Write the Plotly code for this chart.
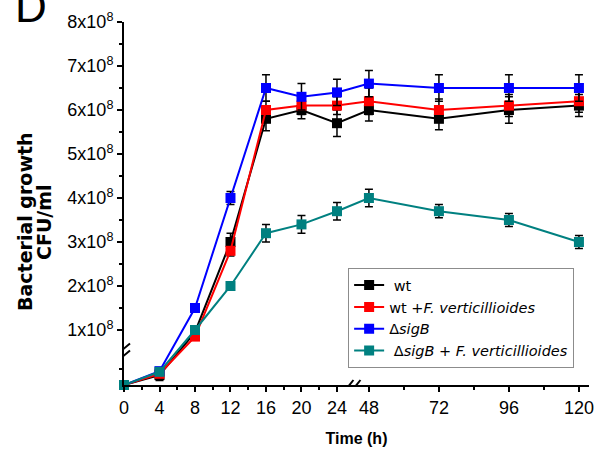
import plotly.graph_objects as go

# ---------------- data ----------------
hours = [0, 4, 8, 12, 16, 20, 24, 48, 72, 96, 120]

wt = [0, 0.15e8, 0.95e8, 3.0e8, 5.8e8, 6.0e8, 5.7e8, 6.0e8, 5.8e8, 6.0e8, 6.1e8]
wt_err = [0, 0.08e8, 0.1e8, 0.2e8, 0.27e8, 0.2e8, 0.3e8, 0.25e8, 0.25e8, 0.3e8, 0.25e8]

wt_fv = [0, 0.17e8, 0.85e8, 2.8e8, 6.0e8, 6.1e8, 6.1e8, 6.2e8, 6.0e8, 6.1e8, 6.2e8]
wt_fv_err = [0, 0.05e8, 0.07e8, 0.12e8, 0.2e8, 0.2e8, 0.2e8, 0.3e8, 0.25e8, 0.25e8, 0.25e8]

sigb = [0, 0.21e8, 1.5e8, 4.0e8, 6.5e8, 6.3e8, 6.4e8, 6.6e8, 6.5e8, 6.5e8, 6.5e8]
sigb_err = [0, 0.05e8, 0.05e8, 0.15e8, 0.3e8, 0.3e8, 0.3e8, 0.3e8, 0.3e8, 0.3e8, 0.3e8]

sigb_fv = [0, 0.2e8, 1.0e8, 2.0e8, 3.2e8, 3.4e8, 3.7e8, 4.0e8, 3.7e8, 3.5e8, 3.0e8]
sigb_fv_err = [0, 0.05e8, 0.05e8, 0.05e8, 0.2e8, 0.2e8, 0.2e8, 0.2e8, 0.15e8, 0.15e8, 0.15e8]

series_names = ["\u00a0wt", "wt +<i>F. verticillioides</i>", "\u0394<i>sigB</i>",
                "\u00a0\u0394<i>sigB</i> + <i>F. verticillioides</i>"]
series_colors = ["#000000", "#ff0000", "#0000ff", "#008080"]

x_ticks = [0, 4, 8, 12, 16, 20, 24, 48, 72, 96, 120]
x_minor = [2, 6, 10, 14, 18, 22, 60, 84, 108]
y_ticks = [1e8, 2e8, 3e8, 4e8, 5e8, 6e8, 7e8, 8e8]
y_ticklabels = ["%dx10<sup>8</sup>" % int(v / 1e8) for v in y_ticks]
y_minor = [0.25e8, 1.5e8, 2.5e8, 3.5e8, 4.5e8, 5.5e8, 6.5e8, 7.5e8]

# ------------- broken-axis scales -------------
X_GAP = 3.6          # width of the 24 -> 48 h break, in first-segment hours
X_SCALE2 = 0.3287    # relative scale of the 48-120 h segment
Y_BREAK = 0.5e8      # y value at the axis break
Y_LOW_STRETCH = 1.5  # stretch of the segment below the break


def tx(h):
    return h if h <= 24 else 24 + X_GAP + (h - 48) * X_SCALE2


def ty(v):
    u = v / 1e8
    b = Y_BREAK / 1e8
    return u * Y_LOW_STRETCH if u <= b else u + b * (Y_LOW_STRETCH - 1)


fig = go.Figure()
for vals, errs, name, col in zip([wt, wt_fv, sigb, sigb_fv],
                                 [wt_err, wt_fv_err, sigb_err, sigb_fv_err],
                                 series_names, series_colors):
    yy = [ty(v) for v in vals]
    plus = [ty(v + e) - ty(v) for v, e in zip(vals, errs)]
    minus = [ty(v) - ty(max(v - e, 0)) for v, e in zip(vals, errs)]
    fig.add_trace(go.Scatter(
        x=[tx(h) for h in hours], y=yy, name=name, mode="lines+markers",
        line=dict(color=col, width=2),
        marker=dict(symbol="square", size=10, color=col),
        error_y=dict(type="data", symmetric=False, array=plus, arrayminus=minus,
                     color="#000000", thickness=1.5, width=4),
        cliponaxis=False,
    ))

fig.update_layout(
    width=595, height=451,
    margin=dict(l=124, r=6, t=22, b=66, autoexpand=False),
    paper_bgcolor="white", plot_bgcolor="white",
    font=dict(family="Liberation Sans, Arial", color="#000000"),
    showlegend=True,
    legend=dict(x=0.482, y=0.322, xanchor="left", yanchor="top",
                bordercolor="#8c8c8c", borderwidth=1,
                font=dict(size=14.5, family="DejaVu Sans"),
                tracegroupgap=0, bgcolor="white"),
)

fig.update_xaxes(
    range=[0, 52.4], showgrid=False, zeroline=False, automargin=False,
    showline=True, linecolor="#000000", linewidth=2,
    ticks="outside", ticklen=5, tickwidth=2, tickcolor="#000000",
    tickvals=[tx(h) for h in x_ticks], ticktext=[str(h) for h in x_ticks],
    tickfont=dict(size=18),
    minor=dict(tickvals=[tx(h) for h in x_minor], ticks="outside", ticklen=3,
               tickwidth=2, tickcolor="#000000"),
    title=dict(text="<b>Time (h)</b>", font=dict(size=16), standoff=16),
)
fig.update_yaxes(
    range=[0, ty(8e8)], showgrid=False, zeroline=False, automargin=False,
    showline=True, linecolor="#000000", linewidth=2,
    ticks="outside", ticklen=5, tickwidth=2, tickcolor="#000000",
    tickvals=[ty(v) for v in y_ticks], ticktext=y_ticklabels,
    tickfont=dict(size=18),
    minor=dict(tickvals=[ty(v) for v in y_minor], ticks="outside", ticklen=3,
               tickwidth=2, tickcolor="#000000"),
)

# y-axis title as two tight lines
fig.add_annotation(text="<b>Bacterial growth</b>", textangle=-90, showarrow=False,
                   xref="paper", yref="paper", x=(25 - 124) / 465, y=(385 - 222) / 363,
                   xanchor="center", yanchor="middle",
                   font=dict(size=19, family="DejaVu Sans"))
fig.add_annotation(text="<b>CFU/ml</b>", textangle=-90, showarrow=False,
                   xref="paper", yref="paper", x=(44 - 124) / 465, y=(385 - 222) / 363,
                   xanchor="center", yanchor="middle",
                   font=dict(size=19, family="DejaVu Sans"))
# panel letter
fig.add_annotation(text="D", showarrow=False, xref="paper", yref="paper",
                   x=(13 - 124) / 465, y=(385 - 33) / 363, xanchor="left", yanchor="bottom",
                   font=dict(size=44, family="Liberation Sans, Arial"))

# axis break marks
yb = ty(Y_BREAK)
xb = (tx(24) + tx(48)) / 2
shapes = [
    dict(type="rect", xref="x", yref="y", xsizemode="pixel", ysizemode="pixel",
         xanchor=0, yanchor=yb, x0=-4, x1=4, y0=-3, y1=3,
         fillcolor="white", line=dict(width=0), layer="above"),
    dict(type="rect", xref="x", yref="y", xsizemode="pixel", ysizemode="pixel",
         xanchor=xb, yanchor=0, x0=-4, x1=3, y0=-3, y1=3,
         fillcolor="white", line=dict(width=0), layer="above"),
]
for off in (-3.5, 3.5):
    shapes.append(dict(type="line", xref="x", yref="y", xsizemode="pixel", ysizemode="pixel",
                       xanchor=0, yanchor=yb, x0=-6, x1=6, y0=off - 5, y1=off + 5,
                       line=dict(color="black", width=2), layer="above"))
    shapes.append(dict(type="line", xref="x", yref="y", xsizemode="pixel", ysizemode="pixel",
                       xanchor=xb, yanchor=0, x0=off - 4, x1=off + 4, y0=-5, y1=5,
                       line=dict(color="black", width=2), layer="above"))
fig.update_layout(shapes=shapes)

fig.write_html("out.html", config={"displayModeBar": False},
               post_script="document.body.style.margin='0';document.body.style.padding='0';"
                           "document.body.style.overflow='hidden';")
